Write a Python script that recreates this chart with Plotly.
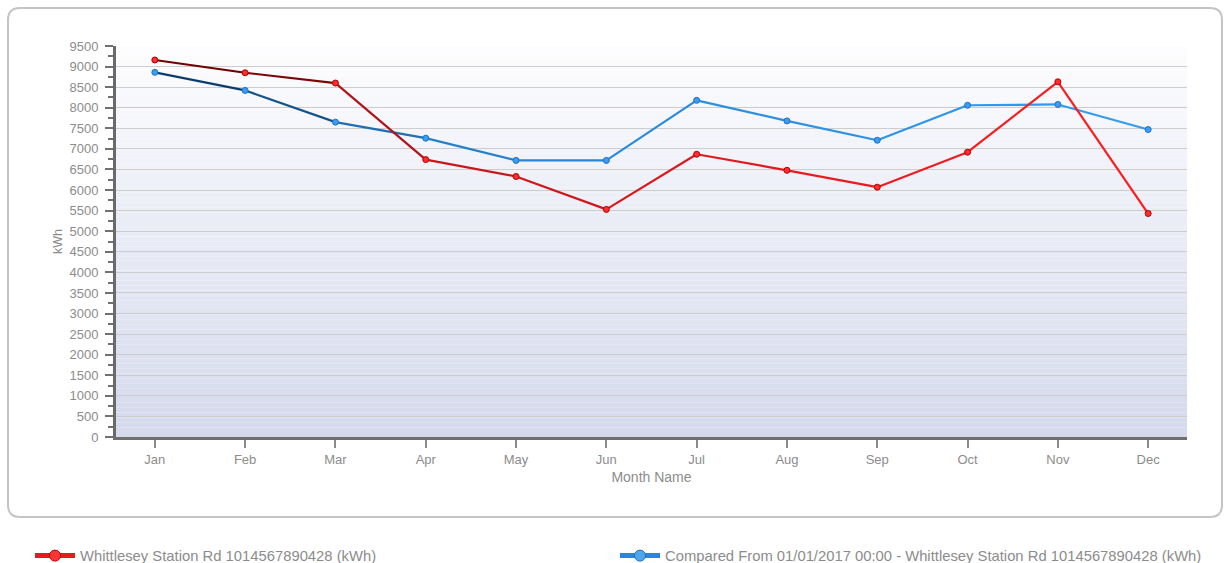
import plotly.graph_objects as go

months = ["Jan", "Feb", "Mar", "Apr", "May", "Jun", "Jul", "Aug", "Sep", "Oct", "Nov", "Dec"]
current_kwh = [9160, 8850, 8600, 6740, 6330, 5530, 6870, 6480, 6070, 6920, 8630, 5430]
compared_kwh = [8860, 8420, 7650, 7260, 6720, 6720, 8180, 7680, 7210, 8060, 8080, 7470]
y_tick_vals = list(range(0, 9501, 500))

name_current = "Whittlesey Station Rd 1014567890428 (kWh)"
name_compared = "Compared From 01/01/2017 00:00 - Whittlesey Station Rd 1014567890428 (kWh)"

# styling: per-segment colours to mimic the gradient stroke
red_segs = ["#6e0000", "#7d0505", "#b3121a", "#c8161c", "#d0181c", "#d8191d",
            "#e01a1e", "#e81b1f", "#ee1c20", "#f41d20", "#fa1e21"]
blue_segs = ["#0b3d6e", "#15538a", "#1e6fb4", "#2580cc", "#2886d6", "#2a8bdc",
             "#2c8fe0", "#2d92e4", "#2f95e8", "#3098ec", "#329cf0"]

W, H = 1225, 563
L, R, T, B = 116, 38, 46, 126
pw, ph = W - L - R, H - T - B

def px_x(p):
    return (p - L) / pw

def px_y(p):
    return (H - B - p) / ph

fig = go.Figure()

xi = list(range(len(months)))
for i in range(len(months) - 1):
    fig.add_trace(go.Scatter(x=xi[i:i + 2], y=compared_kwh[i:i + 2], mode="lines",
                             line=dict(color=blue_segs[i], width=2.2), showlegend=False,
                             hoverinfo="skip"))
for i in range(len(months) - 1):
    fig.add_trace(go.Scatter(x=xi[i:i + 2], y=current_kwh[i:i + 2], mode="lines",
                             line=dict(color=red_segs[i], width=2.2), showlegend=False,
                             hoverinfo="skip"))
fig.add_trace(go.Scatter(x=xi, y=compared_kwh, mode="markers", showlegend=False,
                         marker=dict(size=6, color="#3a9df5", line=dict(color="#1f6fbf", width=1))))
fig.add_trace(go.Scatter(x=xi, y=current_kwh, mode="markers", showlegend=False,
                         marker=dict(size=6, color="#ff2d2d", line=dict(color="#b00000", width=1))))

# legend entries
fig.add_trace(go.Scatter(x=[None], y=[None], mode="lines+markers", name=name_current,
                         line=dict(color="#e41c1c", width=5), legend="legend",
                         marker=dict(size=11, color="#ff3535", line=dict(color="#c00000", width=1))))
fig.add_trace(go.Scatter(x=[None], y=[None], mode="lines+markers", name=name_compared,
                         line=dict(color="#2a86d8", width=5), legend="legend2",
                         marker=dict(size=11, color="#4aa8f5", line=dict(color="#1f6fbf", width=1))))

shapes = []
# gradient plot background
N = 80
top = (253, 253, 254)
bot = (212, 217, 236)
for k in range(N):
    t = (k + 0.5) / N  # 0 at bottom
    c = tuple(round(bot[j] + (top[j] - bot[j]) * t) for j in range(3))
    shapes.append(dict(type="rect", xref="paper", yref="paper", x0=0, x1=1,
                       y0=k / N, y1=(k + 1) / N, layer="below",
                       fillcolor="rgb(%d,%d,%d)" % c, line=dict(width=0)))

# outer rounded frame
x0, x1 = px_x(8), px_x(1222)
y0, y1 = px_y(517), px_y(8)
rx, ry = 12 / pw, 12 / ph
path = (f"M {x0 + rx},{y1} L {x1 - rx},{y1} Q {x1},{y1} {x1},{y1 - ry} "
        f"L {x1},{y0 + ry} Q {x1},{y0} {x1 - rx},{y0} L {x0 + rx},{y0} "
        f"Q {x0},{y0} {x0},{y0 + ry} L {x0},{y1 - ry} Q {x0},{y1} {x0 + rx},{y1} Z")
shapes.append(dict(type="path", xref="paper", yref="paper", path=path, layer="below",
                   line=dict(color="#c4c4c4", width=2)))

font_fam = "Liberation Sans, Arial, sans-serif"
legend_common = dict(orientation="h", xanchor="left", yanchor="middle", itemwidth=40,
                     font=dict(size=14.8, color="#8c8c8c"), bgcolor="rgba(0,0,0,0)")

fig.update_layout(
    width=W, height=H,
    margin=dict(l=L, r=R, t=T, b=B, autoexpand=False),
    paper_bgcolor="white", plot_bgcolor="white",
    font=dict(family=font_fam, size=13, color="#8c8c8c"),
    shapes=shapes,
    showlegend=True,
    legend=dict(x=px_x(30), y=px_y(556), **legend_common),
    legend2=dict(x=px_x(615), y=px_y(556), **legend_common),
    xaxis=dict(
        tickmode="array", tickvals=xi, ticktext=months,
        range=[-0.43, len(months) - 1 + 0.43],
        showgrid=False, zeroline=False,
        showline=True, linecolor="#707070", linewidth=3,
        ticks="outside", ticklen=8, tickwidth=2, tickcolor="#8a8a8a",
        tickfont=dict(size=13, color="#8c8c8c"),
        title=dict(text="Month Name", font=dict(size=14, color="#8c8c8c"), standoff=7),
    ),
    yaxis=dict(
        range=[0, 9500], tickmode="array", tickvals=y_tick_vals,
        showgrid=True, gridcolor="#cdcdcd", gridwidth=1, zeroline=False,
        showline=True, linecolor="#6a6a6a", linewidth=3,
        ticks="outside", ticklen=8, tickwidth=2, tickcolor="#707070",
        minor=dict(dtick=250, ticks="outside", ticklen=5, tickwidth=2, tickcolor="#707070", showgrid=False),
        tickfont=dict(size=13, color="#8c8c8c"), ticklabelstandoff=4,
        title=dict(text="kWh", font=dict(size=12.5, color="#8c8c8c"), standoff=5),
    ),
)

fig.write_html("out.html")
